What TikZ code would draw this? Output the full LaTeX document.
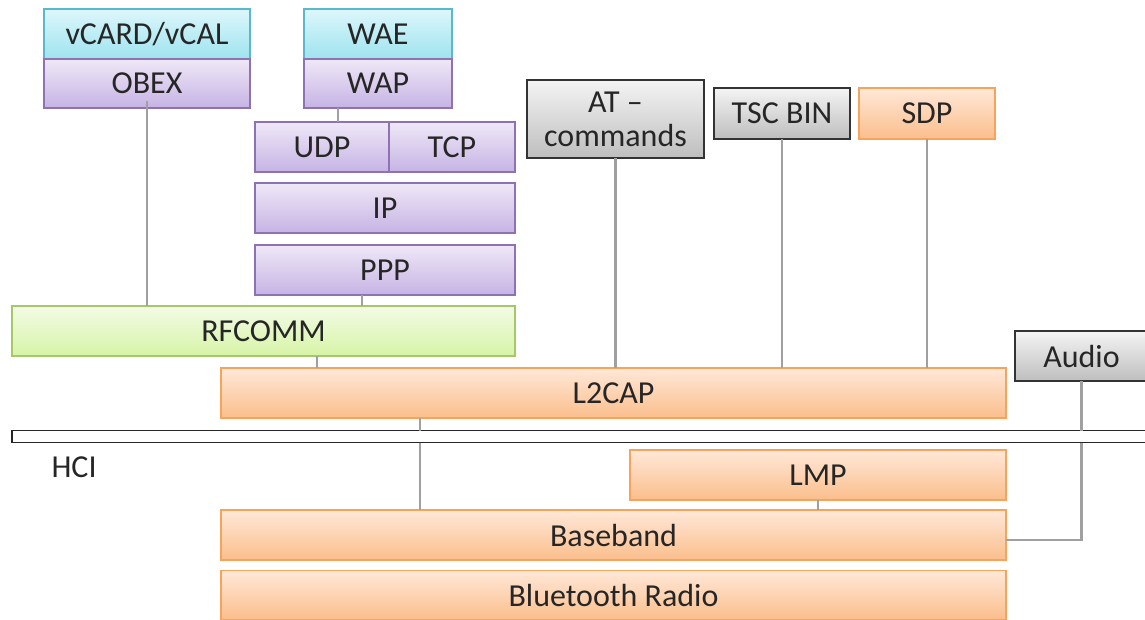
\documentclass[tikz,border=0pt]{standalone}
\usepackage{fontspec}
\setmainfont{Carlito}
\definecolor{cyanT}{HTML}{DDF7FB}
\definecolor{cyanB}{HTML}{9EE3EF}
\definecolor{cyanD}{HTML}{5BB8CC}
\definecolor{purpT}{HTML}{EFE8F7}
\definecolor{purpB}{HTML}{C6B3E4}
\definecolor{purpD}{HTML}{8E72B4}
\definecolor{grnT}{HTML}{F3FBE6}
\definecolor{grnB}{HTML}{D6F4A6}
\definecolor{grnD}{HTML}{A5C96A}
\definecolor{orgT}{HTML}{FFE8D8}
\definecolor{orgB}{HTML}{FBBE8C}
\definecolor{orgD}{HTML}{F7A35C}
\definecolor{gryT}{HTML}{F4F4F4}
\definecolor{gryB}{HTML}{BEBEBE}
\definecolor{linkgray}{HTML}{A0A0A0}
\tikzset{
  layer/.style={rectangle, inner sep=0pt, outer sep=0pt, line width=1.5pt,
    font=\fontsize{32}{34}\selectfont, text=black!85},
  cyanbox/.style={layer, draw=cyanD, top color=cyanT, bottom color=cyanB},
  purplebox/.style={layer, draw=purpD, top color=purpT, bottom color=purpB},
  greenbox/.style={layer, draw=grnD, top color=grnT, bottom color=grnB},
  orangebox/.style={layer, draw=orgD, top color=orgT, bottom color=orgB},
  graybox/.style={layer, draw=black!80, top color=gryT, bottom color=gryB},
  link/.style={draw=linkgray, line width=2.5pt}
}
\begin{document}
\begin{tikzpicture}[x=1pt, y=-1pt]
  \useasboundingbox (0,0) rectangle (1145,619);

  % upper stacks
  \node[cyanbox, minimum width=206, minimum height=50] (vcard) at (147,34) {vCARD/vCAL};
  \node[purplebox, minimum width=206, minimum height=49] (obex) at (147,83.5) {OBEX};
  \node[cyanbox, minimum width=148, minimum height=50] (wae) at (378,34) {WAE};
  \node[purplebox, minimum width=148, minimum height=49] (wap) at (378,83.5) {WAP};
  \node[purplebox, minimum width=134, minimum height=50] (udp) at (322,147) {UDP};
  \node[purplebox, minimum width=126, minimum height=50] (tcp) at (452,147) {TCP};
  \node[purplebox, minimum width=260, minimum height=50] (ip) at (385,208) {IP};
  \node[purplebox, minimum width=260, minimum height=50] (ppp) at (385,270) {PPP};
  \node[greenbox, minimum width=503, minimum height=50] (rfcomm) at (263.5,331) {RFCOMM};

  % control and service boxes
  \node[graybox, minimum width=177, minimum height=78, align=center] (at) at (615.5,119) {AT --\\commands};
  \node[graybox, minimum width=136, minimum height=51] (tsc) at (782,113.5) {TSC BIN};
  \node[orangebox, minimum width=136, minimum height=51] (sdp) at (927,113.5) {SDP};
  \node[graybox, minimum width=133, minimum height=50] (audio) at (1081.5,356) {Audio};

  % lower layers
  \node[orangebox, minimum width=785, minimum height=50] (l2cap) at (613.5,393) {L2CAP};
  \node[draw=black!85, fill=white, line width=1.2pt, inner sep=0pt, outer sep=0pt,
    minimum width=1140, minimum height=12] (hci) at (582,436.5) {};
  \node[font=\fontsize{32}{34}\selectfont, text=black!85, anchor=west] (hcilabel) at (48,467) {HCI};
  \node[orangebox, minimum width=376, minimum height=50] (lmp) at (818,475) {LMP};
  \node[orangebox, minimum width=785, minimum height=50] (baseband) at (613.5,535) {Baseband};
  \node[orangebox, minimum width=785, minimum height=49] (radio) at (613.5,595) {Bluetooth Radio};

  \coordinate (hcitap) at (420,0);
  \coordinate (rftap) at (317,0);
  \coordinate (ppptap) at (362,0);
  \coordinate (waptap) at (338,0);

  % connectors
  \draw[link] ([yshift=7]obex.south) -- (obex.south |- rfcomm.north);
  \draw[link] (wap.south -| waptap) -- (udp.north -| waptap);
  \draw[link] (ppp.south -| ppptap) -- (rfcomm.north -| ppptap);
  \draw[link] (rfcomm.south -| rftap) -- (l2cap.north -| rftap);
  \draw[link] (at.south) -- (at.south |- l2cap.north);
  \draw[link] (tsc.south) -- (tsc.south |- l2cap.north);
  \draw[link] (sdp.south) -- (sdp.south |- l2cap.north);
  \draw[link] (l2cap.south -| hcitap) -- (hci.north -| hcitap);
  \draw[link] (hci.south -| hcitap) -- (baseband.north -| hcitap);
  \draw[link] (lmp.south) -- (baseband.north -| lmp.south);
  \draw[link] (audio.south) -- (audio.south |- hci.north);
  \draw[link] (audio.south |- hci.south) -- (audio.south |- 0,540) -- (baseband.east |- 0,540);
\end{tikzpicture}
\end{document}
